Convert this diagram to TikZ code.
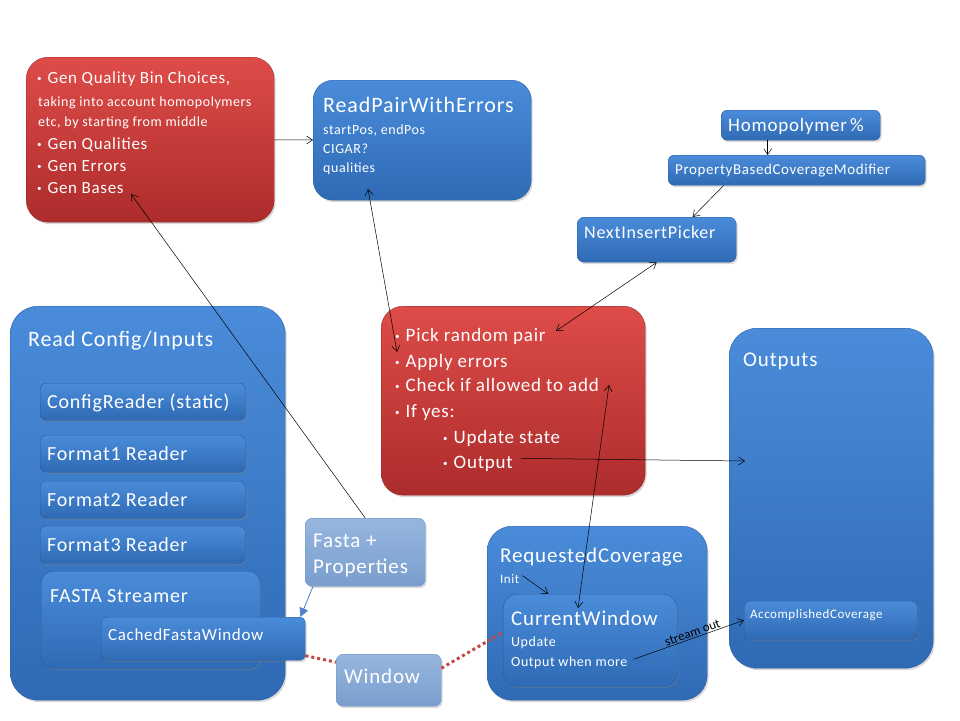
\documentclass[tikz,border=0pt]{standalone}
\usepackage{fontspec}
\setmainfont[LetterSpace=4]{Carlito}
\newfontfamily\plainfont{Carlito}
\usetikzlibrary{arrows.meta,shadows}
\definecolor{btop}{RGB}{74,140,218}
\definecolor{bbot}{RGB}{47,106,180}
\definecolor{bdraw}{RGB}{40,90,160}
\definecolor{rtop}{RGB}{222,76,72}
\definecolor{rbot}{RGB}{172,44,44}
\definecolor{rdraw}{RGB}{150,40,40}
\definecolor{ltop}{RGB}{150,182,222}
\definecolor{lbot}{RGB}{122,158,205}
\definecolor{ldraw}{RGB}{110,145,195}
\definecolor{dotred}{RGB}{196,72,72}
\definecolor{larrow}{RGB}{80,130,200}
\begin{document}
\begin{tikzpicture}[x=1pt,y=-1pt,
  shd/.style={drop shadow={opacity=0.3,shadow xshift=1.5pt,shadow yshift=-2pt}},
  bbox/.style={anchor=north west,inner sep=0,top color=btop,bottom color=bbot,draw=bdraw,line width=0.4pt,shd},
  rbox/.style={anchor=north west,inner sep=0,top color=rtop,bottom color=rbot,draw=rdraw,line width=0.4pt,shd,rounded corners=22pt},
  lbox/.style={anchor=north west,inner sep=0,top color=ltop,bottom color=lbot,draw=ldraw,line width=0.4pt,shd,rounded corners=7pt},
  txt/.style={anchor=base west,inner sep=0,text=white,font=\fontsize{#1}{#1}\selectfont},
  arr/.style={-{Straight Barb[length=6pt,width=8pt]},line width=0.5pt,black},
  arr2/.style={{Straight Barb[length=6pt,width=8pt]}-{Straight Barb[length=6pt,width=8pt]},line width=0.5pt,black}
]
\useasboundingbox (0,0) rectangle (960,720);
\newcommand\bul{\raisebox{1.8pt}{\fontsize{9}{9}\selectfont\textbullet}\hspace{6pt}}

% ---------- red box 1
\node[rbox,minimum width=248pt,minimum height=165pt] (gen) at (26,57) {};
\node[txt=17] (g1) at (37,83) {\bul Gen Quality Bin Choices,};
\node[txt=14] (g2) at (38,106) {taking into account homopolymers};
\node[txt=14] (g3) at (38,126) {etc, by starting from middle};
\node[txt=17] (g4) at (37,149) {\bul Gen Qualities};
\node[txt=17] (g5) at (37,171) {\bul Gen Errors};
\node[txt=17] (g6) at (37,193) {\bul Gen Bases};

% ---------- ReadPairWithErrors
\node[bbox,rounded corners=20pt,minimum width=218pt,minimum height=120pt] (rpwe) at (313,80) {};
\node[txt=22] (rp1) at (323,112) {ReadPairWithErrors};
\node[txt=14] (rp2) at (323,134) {startPos, endPos};
\node[txt=14] (rp3) at (323,153) {CIGAR?};
\node[txt=14] (rp4) at (323,172) {qualities};

% ---------- top right chain
\node[bbox,rounded corners=6pt,minimum width=159pt,minimum height=30pt] (homo) at (721,110) {};
\node[txt=19] (homot) at (728,131) {Homopolymer\,\%};
\node[bbox,rounded corners=6pt,minimum width=257pt,minimum height=30pt] (pbcm) at (668,155) {};
\node[txt=15] (pbcmt) at (675,174) {PropertyBasedCoverageModifier};
\node[bbox,rounded corners=7pt,minimum width=159pt,minimum height=45pt] (nip) at (577,217) {};
\node[txt=18] (nipt) at (584,238) {NextInsertPicker};

% ---------- Read Config/Inputs
\node[bbox,rounded corners=28pt,minimum width=275pt,minimum height=394pt] (rci) at (10,306) {};
\node[txt=22] (rcit) at (28,346) {Read Config/Inputs};
\node[bbox,rounded corners=6pt,minimum width=205pt,minimum height=37pt] (cfg) at (40,383) {};
\node[txt=20] (cfgt) at (47,408) {ConfigReader (static)};
\node[bbox,rounded corners=6pt,minimum width=205pt,minimum height=37pt] (f1) at (40,435) {};
\node[txt=20] (f1t) at (47,460) {Format1 Reader};
\node[bbox,rounded corners=6pt,minimum width=205pt,minimum height=37pt] (f2) at (40,481) {};
\node[txt=20] (f2t) at (47,506) {Format2 Reader};
\node[bbox,rounded corners=6pt,minimum width=205pt,minimum height=37pt] (f3) at (40,526) {};
\node[txt=20] (f3t) at (47,551) {Format3 Reader};
\node[bbox,rounded corners=12pt,minimum width=219pt,minimum height=97pt] (fs) at (41,571) {};
\node[txt=20] (fst) at (50,602) {FASTA Streamer};
\node[bbox,rounded corners=5pt,minimum width=204pt,minimum height=43pt] (cfw) at (101,617) {};
\node[txt=17] (cfwt) at (108,640) {CachedFastaWindow};

% ---------- light boxes
\node[lbox,minimum width=120pt,minimum height=68pt] (fp) at (305,518) {};
\node[txt=21] (fpt1) at (313,547) {Fasta +};
\node[txt=21] (fpt2) at (313,573) {Properties};
\node[lbox,minimum width=105pt,minimum height=52pt] (win) at (336,654) {};
\node[txt=21] (wint) at (344,683) {Window};

% ---------- red box 2
\node[rbox,minimum width=264pt,minimum height=189pt] (red2) at (381,306) {};
\node[txt=19] (p1) at (395,341) {\bul Pick random pair};
\node[txt=19] (p2) at (395,367) {\bul Apply errors};
\node[txt=19] (p3) at (395,391) {\bul Check if allowed to add};
\node[txt=19] (p4) at (395,417) {\bul If yes:};
\node[txt=19] (p5) at (443,443) {\bul Update state};
\node[txt=19] (p6) at (443,468) {\bul Output};

% ---------- Outputs
\node[bbox,rounded corners=28pt,minimum width=204pt,minimum height=340pt] (outs) at (729,328) {};
\node[txt=21] (outst) at (743,366) {Outputs};
\node[bbox,rounded corners=5pt,minimum width=173pt,minimum height=38pt] (acc) at (744,601) {};
\node[txt=13] (acct) at (750,618) {AccomplishedCoverage};

% ---------- RequestedCoverage
\node[bbox,rounded corners=25pt,minimum width=220pt,minimum height=174pt] (rc) at (487,526) {};
\node[txt=21] (rct) at (500,562) {RequestedCoverage};
\node[txt=13] (init) at (500,583) {Init};
\node[bbox,rounded corners=14pt,minimum width=174pt,minimum height=92pt] (cw) at (503,594) {};
\node[txt=21] (cwt) at (511,625) {CurrentWindow};
\node[txt=14] (upd) at (511,646) {Update};
\node[txt=14] (owm) at (511,666) {Output when more};

% ---------- free ends
\coordinate (gbtip) at (131,194);
\coordinate (rpIn) at (368,189);
\coordinate (apIn) at (397,352);
\coordinate (pickIn) at (556,331);
\coordinate (addIn) at (609,385);
\coordinate (cwIn) at (578,608);
\coordinate (outsIn) at (745,461);

% ---------- connectors
\draw[line width=3pt,dotred,dash pattern=on 3pt off 3pt] ([yshift=-17pt]cfw.east) -- ([yshift=18pt]win.west);
\draw[line width=3pt,dotred,dash pattern=on 3pt off 3pt] ([yshift=12pt]win.east) -- ([yshift=8pt]cw.west);
\draw[arr] (gen) -- (rpwe);
\draw[arr] ([xshift=-33pt]homo.south) -- ([xshift=-33pt]homo.south |- pbcm.north);
\draw[arr] ([xshift=-73pt]pbcm.south) -- ([xshift=36pt]nip.north);
\draw[arr2] (pickIn) -- (nip.south);
\draw[arr2] (rpIn) -- (apIn);
\draw[arr] (fp.north) -- (gbtip);
\draw[-{Triangle[length=9pt,width=9pt]},line width=0.8pt,larrow] ([xshift=8pt]fp.south west) -- ([xshift=-5pt]cfw.north east);
\draw[arr] ([xshift=3pt,yshift=3pt]init.east) -- ([xshift=-42pt]cw.north);
\draw[arr2] (addIn) -- (cwIn);
\draw[arr] (p6.east) ++(8pt,5pt) -- (outsIn);
\draw[arr] ([xshift=6pt,yshift=3pt]owm.east) -- (acc.west) node[pos=0.55,sloped,above,inner sep=1pt,font=\plainfont\fontsize{13}{13}\selectfont,text=black] {stream out};
\end{tikzpicture}
\end{document}
